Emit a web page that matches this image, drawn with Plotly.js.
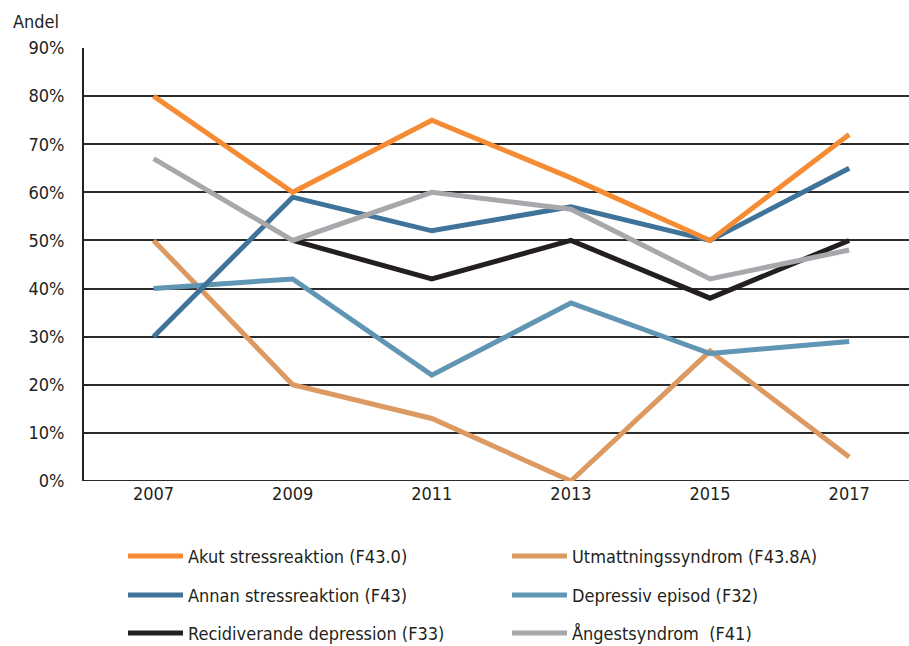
<!DOCTYPE html>
<html>
<head>
<meta charset="utf-8">
<script src="https://cdn.plot.ly/plotly-3.0.1.min.js"></script>
<style>html,body{margin:0;padding:0;background:#fff;overflow:hidden}</style>
</head>
<body>
<div id="chart" style="width:909px;height:646px"></div>
<script>
var years = ['2007', '2009', '2011', '2013', '2015', '2017'];
var seriesNames = ['Akut stressreaktion (F43.0)', 'Utmattningssyndrom (F43.8A)', 'Annan stressreaktion (F43)', 'Depressiv episod (F32)', 'Recidiverande depression (F33)', 'Ångestsyndrom  (F41)'];
var akut = [80, 60, 75, 63, 50, 72];
var utmattning = [50, 20, 13, 0, 27, 5];
var annan = [30, 59, 52, 57, 50, 65];
var depressiv = [40, 42, 22, 37, 26.5, 29];
var recidiverande = [null, 50, 42, 50, 38, 50];
var angest = [67, 50, 60, 56.5, 42, 48];
var yTicks = [0, 10, 20, 30, 40, 50, 60, 70, 80, 90];

var colors = ['#F58B33', '#DC9A62', '#40739A', '#6195B4', '#231F20', '#A7A8AB'];
var allData = [akut, utmattning, annan, depressiv, recidiverande, angest];
var drawOrder = [1, 3, 2, 0, 4, 5];

var FONT = '"Liberation Sans Narrow", "DejaVu Sans Condensed", "Open Sans", sans-serif';

var traces = drawOrder.map(function (i) {
  return {
    x: years, y: allData[i], name: seriesNames[i], type: 'scatter', mode: 'lines',
    line: {color: colors[i], width: 5, shape: 'linear'},
    connectgaps: false, showlegend: false, hoverinfo: 'skip', cliponaxis: false
  };
});

// manual legend (2 columns x 3 rows)
var shapes = [];
var annotations = [];
var W = 909, H = 646, ml = 84, mr = 0, mt = 48, mb = 165;
var pw = W - ml - mr, ph = H - mt - mb;
function px2x(p) { return (p - ml) / pw; }
function py2y(p) { return (H - mb - p) / ph; }
var colX = [128, 512];
var rowY = [556, 595, 633];
for (var k = 0; k < seriesNames.length; k++) {
  var c = k % 2, r = Math.floor(k / 2);
  shapes.push({type: 'line', xref: 'paper', yref: 'paper',
    x0: px2x(colX[c]), x1: px2x(colX[c] + 55), y0: py2y(rowY[r]), y1: py2y(rowY[r]),
    line: {color: colors[k], width: 5}});
  annotations.push({xref: 'paper', yref: 'paper', x: px2x(colX[c] + 58), y: py2y(rowY[r]),
    xanchor: 'left', yanchor: 'middle', text: seriesNames[k].replace(/  /g, '&nbsp; '), showarrow: false,
    font: {family: FONT, size: 18, color: '#231F20'}});
}
annotations.push({xref: 'paper', yref: 'paper', x: px2x(36), y: py2y(21), xanchor: 'center', yanchor: 'middle',
  text: 'Andel', showarrow: false, font: {family: FONT, size: 18, color: '#231F20'}});

var layout = {
  width: W, height: H,
  margin: {l: ml, r: mr, t: mt, b: mb, pad: 0},
  paper_bgcolor: '#fff', plot_bgcolor: '#fff',
  font: {family: FONT, size: 18, color: '#231F20'},
  showlegend: false,
  xaxis: {type: 'category', range: [-0.5, 5.43], showgrid: false, zeroline: false,
    showline: false, ticks: '', tickfont: {family: FONT, size: 18, color: '#231F20'}, fixedrange: true},
  yaxis: {range: [0, 90], tickvals: yTicks, ticktext: yTicks.map(function (v) { return v + '%'; }),
    showgrid: true, gridcolor: '#2b2b2b', gridwidth: 2, zeroline: false,
    showline: true, linecolor: '#231F20', linewidth: 2, ticks: '', ticklabelstandoff: 14,
    tickfont: {family: FONT, size: 18, color: '#231F20'}, fixedrange: true},
  shapes: shapes,
  annotations: annotations
};
// bottom line at 0%
layout.shapes.push({type: 'line', xref: 'paper', yref: 'y', x0: 0, x1: 1, y0: 0, y1: 0, layer: 'below',
  line: {color: '#2b2b2b', width: 2}});

Plotly.newPlot('chart', traces, layout, {staticPlot: true, displayModeBar: false});
</script>
</body>
</html>
